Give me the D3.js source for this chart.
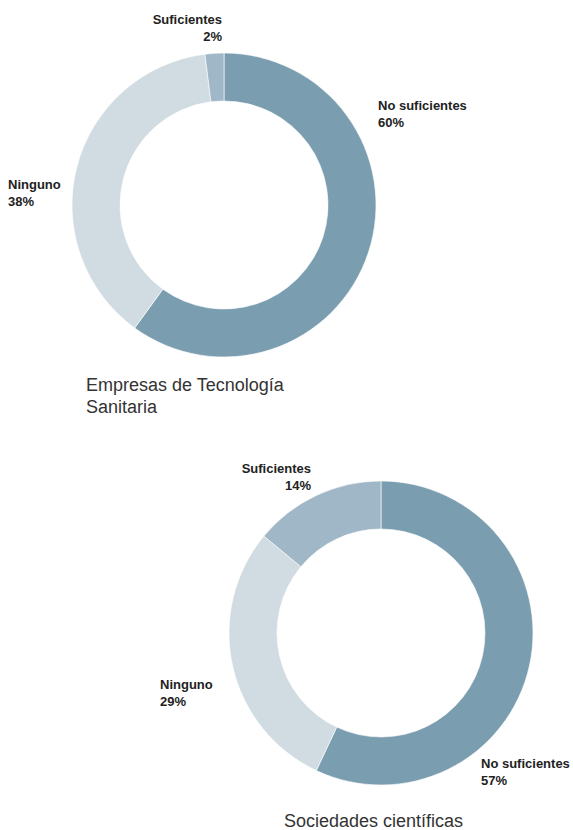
<!DOCTYPE html>
<html>
<head>
<meta charset="utf-8">
<script src="https://cdn.jsdelivr.net/npm/d3@7"></script>
<style>
  html, body { margin: 0; padding: 0; background: #ffffff; }
  svg { display: block; }
</style>
</head>
<body>
<svg id="chart" width="573" height="830"></svg>
<script>
// Response categories (clockwise from 12 o'clock)
const categories = ["No suficientes", "Ninguno", "Suficientes"];
// Share of respondents, percent
const empresasValues = [60, 38, 2];
const sociedadesValues = [57, 29, 14];
const chartTitles = [["Empresas de Tecnología", "Sanitaria"], ["Sociedades científicas"]];

const colors = d3.scaleOrdinal()
  .domain(categories)
  .range(["#7b9db0", "#d0dce1", "#9fb7c6"]);

const svg = d3.select("#chart");
const font = "'Liberation Sans', Arial, Helvetica, sans-serif";

const pie = d3.pie().sort(null).value(d => d.value);
const arc = d3.arc().innerRadius(104).outerRadius(152);

// Layout of each donut and where each category's label sits
const panels = [
  {
    values: empresasValues, title: chartTitles[0], cx: 224, cy: 205,
    titleX: 86, titleY: 391,
    labels: {
      "No suficientes": { x: 378, y: 110, anchor: "start" },
      "Ninguno": { x: 8, y: 189, anchor: "start" },
      "Suficientes": { x: 222, y: 24, anchor: "end" }
    }
  },
  {
    values: sociedadesValues, title: chartTitles[1], cx: 381, cy: 633,
    titleX: 284, titleY: 827,
    labels: {
      "No suficientes": { x: 481, y: 768, anchor: "start" },
      "Ninguno": { x: 160, y: 689, anchor: "start" },
      "Suficientes": { x: 311, y: 473, anchor: "end" }
    }
  }
];

panels.forEach(p => {
  const data = categories.map((c, i) => ({ category: c, value: p.values[i] }));
  const g = svg.append("g").attr("transform", `translate(${p.cx},${p.cy})`);

  g.selectAll("path")
    .data(pie(data))
    .join("path")
    .attr("d", arc)
    .attr("fill", d => colors(d.data.category))
    .attr("stroke", "#ffffff")
    .attr("stroke-width", 0.6);

  // Category labels with percentage on a second line
  data.forEach(d => {
    const l = p.labels[d.category];
    const t = svg.append("text")
      .attr("x", l.x).attr("y", l.y)
      .attr("text-anchor", l.anchor)
      .attr("font-family", font)
      .attr("font-size", 13)
      .attr("font-weight", "bold")
      .attr("fill", "#222222");
    t.append("tspan").attr("x", l.x).text(d.category);
    t.append("tspan").attr("x", l.x).attr("dy", 17).text(d.value + "%");
  });

  // Panel title
  const tt = svg.append("text")
    .attr("x", p.titleX).attr("y", p.titleY)
    .attr("font-family", font)
    .attr("font-size", 18)
    .attr("fill", "#333333");
  p.title.forEach((line, i) => {
    tt.append("tspan").attr("x", p.titleX).attr("dy", i === 0 ? 0 : 22).text(line);
  });
});
</script>
</body>
</html>
